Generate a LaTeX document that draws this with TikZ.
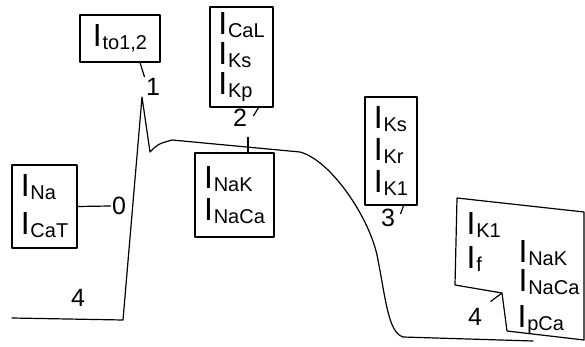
\documentclass[tikz,border=0pt]{standalone}
\usepackage{fontspec}
\setmainfont{Liberation Sans}
\usetikzlibrary{calc}
\lineskiplimit=-30pt
\newcommand{\curr}[1]{I\kern0.8pt\raisebox{-3pt}{\fontsize{20}{20}\selectfont #1}}
\begin{document}
\begin{tikzpicture}[x=1pt,y=-1pt, line width=1.2pt, line join=round, line cap=round,
  box/.style={draw, inner sep=0pt, align=left, font=\fontsize{32}{30}\selectfont},
  lbl/.style={font=\fontsize{25}{25}\selectfont, inner sep=1pt},
  txt/.style={font=\fontsize{32}{30}\selectfont, inner sep=0pt, anchor=west}]
\useasboundingbox (0,0) rectangle (585,347);

% action potential curve
\draw (12,318) -- (123,320) -- (142,97) -- (150,152) .. controls (158,144) .. (172,140)
  -- (300,152) .. controls (330,160) and (368,215) .. (377,255)
  .. controls (386,300) and (388,332) .. (403,337) -- (533,341);

% boxes
\node[box, minimum width=65pt, minimum height=83pt] (ina) at (44.5,206.5) {\curr{Na}\\[8pt]\curr{CaT}};
\node[lbl] (zero) at (119,206) {0};
\node[box, minimum width=80pt, minimum height=47pt] (ito) at (120,38.5) {\curr{to1,2}};
\node[lbl] (one) at (153,87) {1};
\node[box, minimum width=63pt, minimum height=100pt] (cal) at (241.5,57) {\curr{CaL}\\\curr{Ks}\\\curr{Kp}};
\node[lbl] (two) at (240,118) {2};
\node[box, minimum width=79pt, minimum height=84pt] (nak) at (234.5,195) {\curr{NaK}\\[2pt]\curr{NaCa}};
\node[box, minimum width=52pt, minimum height=108pt] (ks) at (391,151) {\curr{Ks}\\[2pt]\curr{Kr}\\[2pt]\curr{K1}};
\node[lbl] (three) at (388,218) {3};
\node[lbl] (fourA) at (78,298) {4};
\node[lbl] (fourB) at (475,317) {4};

% phase 4 box (notched)
\draw (457,198) -- (584,212) -- (584,340) -- (507,331) -- (502,293) coordinate (notch) -- (455,285) -- cycle;
\node[txt] (k1) at (466,225) {\curr{K1}};
\node[txt] (f) at (466,259) {\curr{f}};
\node[txt] (nak2) at (518,253) {\curr{NaK}};
\node[txt] (naca2) at (518,282) {\curr{NaCa}};
\node[txt] (pca) at (517,320) {\curr{pCa}};

% connectors
\draw (ina.east) -- (zero.west);
\draw ([xshift=20pt]ito.south) -- (one.north west);
\draw ([xshift=-15pt]cal.south east) -- ++(-5,8);
\draw ([xshift=8pt,yshift=-9pt]two.south) -- ([xshift=8pt]two.south |- nak.north);
\draw ([xshift=-14pt]ks.south east) -- ++(-3,8);
\draw[shorten <=9pt] (fourB.north east) -- (notch);
\end{tikzpicture}
\end{document}
